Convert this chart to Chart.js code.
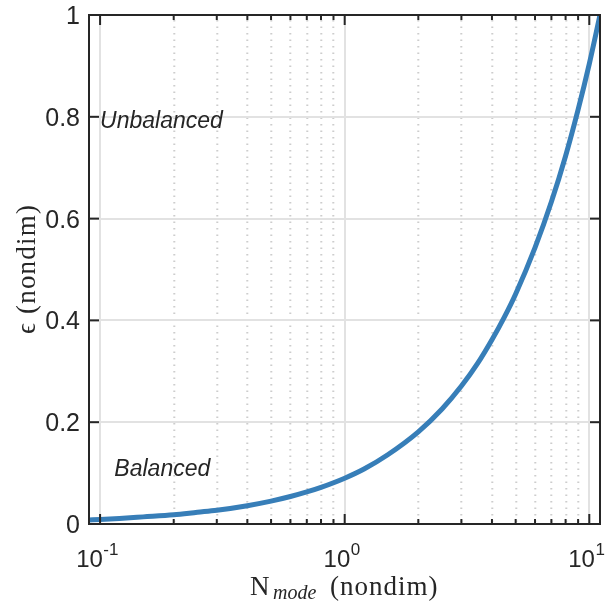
<!DOCTYPE html>
<html>
<head>
<meta charset="utf-8">
<script src="https://cdn.jsdelivr.net/npm/chart.js@4/dist/chart.umd.min.js"></script>
<style>
html,body{margin:0;padding:0;background:#fff;}
canvas{display:block;}
</style>
</head>
<body>
<canvas id="c" width="606" height="607"></canvas>
<script>
// ---- data ----
const nMode   = [0.0901, 0.1, 0.12, 0.15, 0.2, 0.25, 0.3, 0.4, 0.5, 0.6, 0.7, 0.8, 1, 1.2, 1.5, 2, 2.5, 3, 3.5, 4, 4.5, 5, 6, 7, 8, 9, 10, 11.06];
const epsilon = [0.008, 0.009, 0.011, 0.014, 0.018, 0.023, 0.027, 0.036, 0.045, 0.054, 0.063, 0.072, 0.09, 0.108, 0.136, 0.181, 0.226, 0.271, 0.316, 0.362, 0.407, 0.452, 0.543, 0.633, 0.723, 0.814, 0.904, 1.0];

const xMajorTicks = [0.1, 1, 10];
const xMajorLabels = [["10","-1"], ["10","0"], ["10","1"]];
const xMinorTicks = [0.2,0.3,0.4,0.5,0.6,0.7,0.8,0.9,2,3,4,5,6,7,8,9];
const yTicks = [0, 0.2, 0.4, 0.6, 0.8, 1];
const yTickLabels = ["0", "0.2", "0.4", "0.6", "0.8", "1"];
const annotations = [
  {text: "Unbalanced", x: 0.1, y: 0.794},
  {text: "Balanced", x: 0.1144, y: 0.11}
];
const xTitleMain = "N", xTitleSub = "mode", xTitleRest = "(nondim)";
const yTitle = "\u03F5 (nondim)";

const AX = '#262626';
const SANS = '"Liberation Sans", Arial, Helvetica, sans-serif';
const SERIF = '"Liberation Serif", "DejaVu Serif", serif';

const drawPlugin = {
  id: 'matlabLook',
  beforeDatasetsDraw(chart) {
    const ctx = chart.ctx, a = chart.chartArea;
    const xs = chart.scales.x, ys = chart.scales.y;
    ctx.save();
    // minor dotted grid
    ctx.strokeStyle = '#cdcdcd';
    ctx.lineWidth = 2;
    ctx.setLineDash([1.6, 4.9]);
    xMinorTicks.forEach(v => {
      const px = Math.round(xs.getPixelForValue(v)) + 0.3;
      ctx.beginPath(); ctx.moveTo(px, a.bottom - 2); ctx.lineTo(px, a.top); ctx.stroke();
    });
    ctx.setLineDash([]);
    // major grid
    ctx.strokeStyle = '#e2e2e2';
    ctx.lineWidth = 2;
    xMajorTicks.forEach(v => {
      const px = Math.round(xs.getPixelForValue(v));
      ctx.beginPath(); ctx.moveTo(px, a.bottom); ctx.lineTo(px, a.top); ctx.stroke();
    });
    yTicks.forEach(v => {
      if (v === 0 || v === 1) return;
      const py = Math.round(ys.getPixelForValue(v));
      ctx.beginPath(); ctx.moveTo(a.left, py); ctx.lineTo(a.right, py); ctx.stroke();
    });
    ctx.restore();
  },
  afterDraw(chart) {
    const ctx = chart.ctx, a = chart.chartArea;
    const xs = chart.scales.x, ys = chart.scales.y;
    ctx.save();
    // box
    ctx.strokeStyle = AX;
    ctx.lineWidth = 2;
    ctx.strokeRect(a.left, a.top, a.right - a.left, a.bottom - a.top);
    // ticks
    const tick = (x1, y1, x2, y2) => { ctx.beginPath(); ctx.moveTo(x1, y1); ctx.lineTo(x2, y2); ctx.stroke(); };
    xMajorTicks.forEach(v => {
      const px = xs.getPixelForValue(v);
      tick(px, a.bottom, px, a.bottom - 10);
      tick(px, a.top, px, a.top + 10);
    });
    xMinorTicks.forEach(v => {
      const px = xs.getPixelForValue(v);
      tick(px, a.bottom, px, a.bottom - 5);
      tick(px, a.top, px, a.top + 5);
    });
    yTicks.forEach(v => {
      const py = ys.getPixelForValue(v);
      tick(a.left, py, a.left + 10, py);
      tick(a.right, py, a.right - 10, py);
    });
    // y tick labels
    ctx.fillStyle = AX;
    ctx.font = '25px ' + SANS;
    ctx.textAlign = 'right';
    ctx.textBaseline = 'alphabetic';
    yTicks.forEach((v, i) => {
      const py = ys.getPixelForValue(v);
      ctx.fillText(yTickLabels[i], a.left - 9, py + 9);
    });
    // x tick labels with superscript
    ctx.textAlign = 'left';
    xMajorTicks.forEach((v, i) => {
      const px = xs.getPixelForValue(v);
      const [base, sup] = xMajorLabels[i];
      ctx.font = '24px ' + SANS;
      const wb = ctx.measureText(base).width;
      ctx.font = '17px ' + SANS;
      const ws = ctx.measureText(sup).width;
      const x0 = px - 3 - (wb + ws) / 2;
      ctx.font = '24px ' + SANS;
      ctx.fillText(base, x0, 566.5);
      ctx.font = '17px ' + SANS;
      ctx.fillText(sup, x0 + wb + 0.5, 555);
    });
    // annotations
    ctx.font = 'italic 23px ' + SANS;
    annotations.forEach(t => {
      const px = xs.getPixelForValue(t.x);
      const py = ys.getPixelForValue(t.y);
      ctx.fillText(t.text, px, py + 8.2);
    });
    // x title
    const fMain = '27px ' + SERIF, fSub = 'italic 20px ' + SERIF;
    const by = 595;
    ctx.font = fMain; ctx.fillText(xTitleMain, 250, by);
    ctx.font = fSub; ctx.fillText(xTitleSub, 273, by + 3.5);
    ctx.font = fMain;
    ctx.letterSpacing = '1px';
    ctx.fillText(xTitleRest, 330, by);
    // y title
    ctx.translate(35, 269);
    ctx.rotate(-Math.PI / 2);
    ctx.textAlign = 'center';
    ctx.font = '27px ' + SERIF;
    ctx.letterSpacing = '1.2px';
    ctx.fillText(yTitle, 0, 0);
    ctx.restore();
  }
};

new Chart(document.getElementById('c'), {
  type: 'line',
  data: {
    datasets: [{
      data: nMode.map((x, i) => ({x: x, y: epsilon[i]})),
      borderColor: '#377eb8',
      borderWidth: 5,
      pointRadius: 0,
      fill: false,
      cubicInterpolationMode: 'monotone',
      borderCapStyle: 'butt'
    }]
  },
  options: {
    responsive: false,
    animation: false,
    devicePixelRatio: 1,
    layout: {padding: {left: 89, top: 15, right: 6, bottom: 83}},
    plugins: {legend: {display: false}, tooltip: {enabled: false}},
    scales: {
      x: {type: 'logarithmic', min: 0.0901, max: 11.06, display: false},
      y: {type: 'linear', min: 0, max: 1, display: false}
    }
  },
  plugins: [drawPlugin]
});
</script>
</body>
</html>
